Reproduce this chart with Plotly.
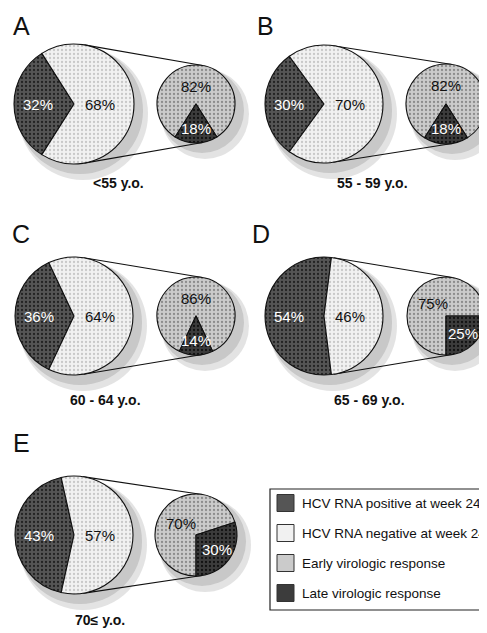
import math
import plotly.graph_objects as go

# ---------------- data ----------------
panel_letters = ["A", "B", "C", "D", "E"]
age_groups = ["<55 y.o.", "55 - 59 y.o.", "60 - 64 y.o.", "65 - 69 y.o.", "70\u2264 y.o."]
hcv_positive_w24 = [32, 30, 36, 54, 43]
hcv_negative_w24 = [68, 70, 64, 46, 57]
early_response = [82, 82, 86, 75, 70]
late_response = [18, 18, 14, 25, 30]
legend_labels = ["HCV RNA positive at week 24", "HCV RNA negative at week 24",
                 "Early virologic response", "Late virologic response"]

# ---------------- layout constants ----------------
W, H = 487, 633
OFF = 8  # page body margin
col_x = [0, 250, 0, 250, 0]
row_y = [0, 0, 212, 212, 429]
big_dx, small_dx = 74, 196
pie_dy = [104, 104, 104, 104, 106]
big_r = [60, 59, 59, 59, 59]
small_r = [39, 40, 39, 39, 41]
letter_pos = [(21, 26), (265, 26), (21, 234), (261, 234), (21, 443)]
label_pos = [(118, 183), (372, 183), (105, 400), (369, 400), (100, 620)]
late_center_angle = [180, 180, 180, 135, 126]  # clockwise from 12 o'clock

C_POS = "#555555"
C_NEG = "#f1f1f1"
C_EARLY = "#cbcbcb"
C_LATE = "#3c3c3c"
FONT = "Liberation Sans, Arial, sans-serif"


def px(x):
    return (x - OFF) / W


def py(y):
    return 1 - (y - OFF) / H


fig = go.Figure()
shapes = []
annotations = []


def text(x, y, s, size, color, xanchor="center"):
    annotations.append(dict(x=px(x), y=py(y), xref="paper", yref="paper",
                            xanchor=xanchor, yanchor="middle", text=s, showarrow=False,
                            font=dict(family=FONT, size=size, color=color)))


def slice_mids(values, rotation):
    tot = sum(values)
    mids = []
    a = rotation
    for v in values:
        span = 360 * v / tot
        mids.append(a + span / 2)
        a += span
    return mids


def add_pie(cx, cy, r, values, colors, fgcolors, rotation, text_colors, fracs):
    fig.add_trace(go.Pie(
        values=values,
        sort=False,
        direction="clockwise",
        rotation=rotation,
        textinfo="none",
        hoverinfo="skip",
        showlegend=False,
        marker=dict(colors=colors,
                    line=dict(color="#111111", width=1.1),
                    pattern=dict(shape=".", fgcolor=fgcolors, bgcolor=colors,
                                 size=4, solidity=0.25, fillmode="replace")),
        domain=dict(x=[px(cx - r), px(cx + r)], y=[py(cy + r), py(cy - r)]),
    ))
    for v, m, tc, f in zip(values, slice_mids(values, rotation), text_colors, fracs):
        a = math.radians(m)
        text(cx + f * r * math.sin(a), cy - f * r * math.cos(a), f"{v}%", 15, tc)


for i in range(5):
    cy = row_y[i] + pie_dy[i]
    bx, sx = col_x[i] + big_dx, col_x[i] + small_dx
    R, r = big_r[i], small_r[i]

    # drop shadows
    for (cx, rr) in [(bx, R), (sx, r)]:
        shapes.append(dict(type="circle", xref="paper", yref="paper", layer="below",
                           x0=px(cx - rr + 4), x1=px(cx + rr + 14),
                           y0=py(cy + rr + 16), y1=py(cy - rr + 4),
                           fillcolor="#dcdcdc", line=dict(width=0), opacity=0.8))
        shapes.append(dict(type="circle", xref="paper", yref="paper", layer="below",
                           x0=px(cx - rr + 3), x1=px(cx + rr + 9),
                           y0=py(cy + rr + 10), y1=py(cy - rr + 3),
                           fillcolor="#c0c0c0", line=dict(width=0), opacity=0.8))

    # connector lines (external tangents)
    d = sx - bx
    th = math.acos((R - r) / d)
    for sgn in (-1, 1):
        x1 = bx + R * math.cos(th)
        y1 = cy + sgn * R * math.sin(th)
        x2 = sx + r * math.cos(th)
        y2 = cy + sgn * r * math.sin(th)
        shapes.append(dict(type="line", xref="paper", yref="paper", layer="below",
                           x0=px(x1), y0=py(y1), x1=px(x2), y1=py(y2),
                           line=dict(color="#111111", width=1.1)))

    # big pie: positive slice centred at 9 o'clock
    pos, neg = hcv_positive_w24[i], hcv_negative_w24[i]
    add_pie(bx, cy, R, [pos, neg], [C_POS, C_NEG], ["#222222", "#c8c8c8"],
            270 - pos * 1.8, ["white", "#111111"], [0.6, 0.44])

    # small pie
    er, lr = early_response[i], late_response[i]
    add_pie(sx, cy, r, [er, lr], [C_EARLY, C_LATE], ["#8c8c8c", "#111111"],
            late_center_angle[i] + lr * 1.8, ["#111111", "white"], [0.46, 0.62])

    # letters & age labels
    lx, ly = letter_pos[i]
    text(lx, ly, panel_letters[i], 25, "#111111")
    ax, ay = label_pos[i]
    text(ax, ay, f"<b>{age_groups[i]}</b>", 14, "#111111")

# legend box
shapes.append(dict(type="rect", xref="paper", yref="paper",
                   x0=px(270), x1=px(500), y0=py(610), y1=py(489),
                   line=dict(color="#222222", width=1.2), fillcolor="white", layer="below"))
leg_colors = [C_POS, C_NEG, C_EARLY, C_LATE]
leg_fg = ["#222222", "#c8c8c8", "#8c8c8c", "#111111"]
for k, (lab, col) in enumerate(zip(legend_labels, leg_colors)):
    yc = 503 + 30 * k
    shapes.append(dict(type="rect", xref="paper", yref="paper",
                       x0=px(277), x1=px(294), y0=py(yc + 8.5), y1=py(yc - 8.5),
                       fillcolor=col, line=dict(color="#333333", width=1)))
    text(300, yc, lab, 13.5, "#111111", xanchor="left")

fig.update_layout(
    width=W, height=H,
    margin=dict(l=0, r=0, t=0, b=0),
    paper_bgcolor="white", plot_bgcolor="white",
    shapes=shapes, annotations=annotations,
    showlegend=False,
)
fig.write_html("out.html")
